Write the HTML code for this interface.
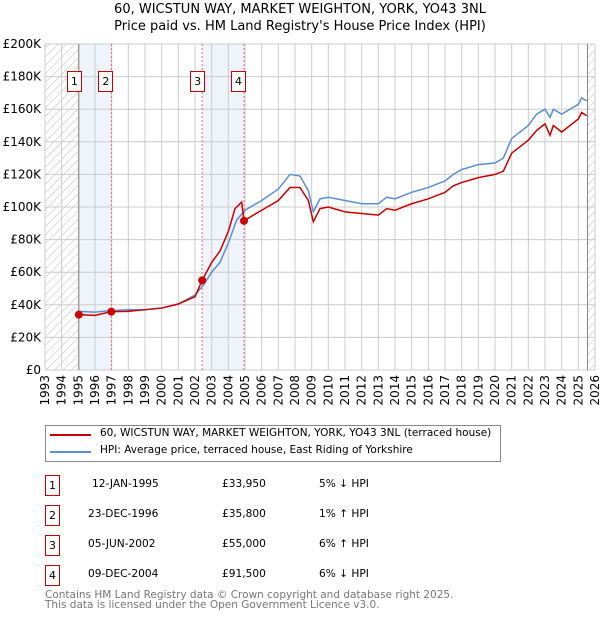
<!DOCTYPE html>
<html><head><meta charset="utf-8"><style>
body{margin:0;background:#fff;font-family:"DejaVu Sans","Liberation Sans",sans-serif;}
#wrap{position:relative;width:600px;height:620px;overflow:hidden}
.t{position:absolute;font-size:12px;color:#000;white-space:nowrap}
.box{position:absolute;width:13px;height:19px;border:1px solid #c00;font-size:11px;text-align:center;line-height:19px;background:#fff}
</style></head><body><div id="wrap">
<div class="t" style="left:0;width:600px;text-align:center;top:1px;font-size:13px;line-height:17px">60, WICSTUN WAY, MARKET WEIGHTON, YORK, YO43 3NL<br>Price paid vs. HM Land Registry's House Price Index (HPI)</div>
<svg id="c" width="600" height="420" style="position:absolute;left:0;top:0"></svg>
<div style="position:absolute;left:45px;top:425px;width:454px;height:35px;border:1px solid #888"></div>
<div><div style="position:absolute;left:50px;top:434px;width:41px;height:2px;background:#c00"></div><div class="t" style="left:100px;top:427px;font-size:10.5px">60, WICSTUN WAY, MARKET WEIGHTON, YORK, YO43 3NL (terraced house)</div></div>
<div><div style="position:absolute;left:50px;top:451px;width:41px;height:2px;background:#5b8fd4"></div><div class="t" style="left:100px;top:444px;font-size:10.5px">HPI: Average price, terraced house, East Riding of Yorkshire</div></div>
<div id="tbl"></div>
<div class="t" style="left:45px;top:590px;font-size:10.5px;color:#777;line-height:10px">Contains HM Land Registry data © Crown copyright and database right 2025.<br>This data is licensed under the Open Government Licence v3.0.</div>
</div>
<script>
const hpiYears=[1995,1996,1997,1998,1999,2000,2001,2002,2002.5,2003,2003.5,2004,2004.5,2005,2006,2007,2007.7,2008.3,2008.8,2009.1,2009.5,2010,2011,2012,2013,2013.5,2014,2015,2016,2017,2017.5,2018,2019,2020,2020.5,2021,2022,2022.5,2023,2023.3,2023.5,2024,2025,2025.2,2025.5];
const hpiValues=[36,35.5,36.5,37,37,38,40.5,46,52,60,66,78,92,98,104,111,120,119,110,97,105,106,104,102,102,106,105,109,112,116,120,123,126,127,130,142,150,157,160,155,160,157,163,167,165];
const priceYears=[1995.04,1996,1996.98,1998,1999,2000,2001,2002,2002.43,2003,2003.5,2004,2004.4,2004.8,2004.94,2005.5,2006,2007,2007.7,2008.3,2008.8,2009.1,2009.5,2010,2011,2012,2013,2013.5,2014,2015,2016,2017,2017.5,2018,2019,2020,2020.5,2021,2022,2022.5,2023,2023.3,2023.5,2024,2025,2025.2,2025.5];
const priceValues=[34,33.5,35.8,36,37,38,40.5,45,55,66,73,85,99,103,91.5,95,98,104,112,112,104,91,99,100,97,96,95,99,98,102,105,109,113,115,118,120,122,133,141,147,151,144,150,146,154,158,156];
const saleLabels=["1","2","3","4"];
const saleYears=[1995.03,1996.98,2002.43,2004.94];
const salePrices=[33.95,35.8,55,91.5];
const saleDates=["12-JAN-1995","23-DEC-1996","05-JUN-2002","09-DEC-2004"];
const saleText=["£33,950","£35,800","£55,000","£91,500"];
const saleHpi=["5% ↓ HPI","1% ↑ HPI","6% ↑ HPI","6% ↓ HPI"];
const yTicks=[0,20,40,60,80,100,120,140,160,180,200];
const X0=45,X1=595,Y0=370,Y1=44;
const x=y=>X0+(y-1993)*(X1-X0)/33;
const yv=v=>Y0-v*(Y0-Y1)/200;
const svg=document.getElementById('c');const NS="http://www.w3.org/2000/svg";
function mk(t,a,p){const e=document.createElementNS(NS,t);for(const k in a)e.setAttribute(k,a[k]);(p||svg).appendChild(e);return e;}
const defs=mk('defs',{});const pat=mk('pattern',{id:'h',width:6,height:6,patternUnits:'userSpaceOnUse',patternTransform:'rotate(45)'},defs);mk('line',{x1:0,y1:0,x2:0,y2:6,stroke:'#bbb','stroke-width':1},pat);
let r=mk('rect',{x:X0,y:Y1,width:x(1995.03)-X0,height:Y0-Y1,fill:'url(#h)'});


r=mk('rect',{x:x(2025.55),y:Y1,width:X1-x(2025.55),height:Y0-Y1,fill:'url(#h)'});


[[0,1],[2,3]].forEach((p,i)=>{const b=mk('rect',{x:x(saleYears[p[0]]),y:Y1,width:x(saleYears[p[1]])-x(saleYears[p[0]]),height:Y0-Y1,fill:'#eef3fc'});

});
for(let yr=1993;yr<=2026;yr++){const l=mk('line',{x1:x(yr),x2:x(yr),y1:Y1,y2:Y0,stroke:'#ccc'});


const t=mk('text',{x:0,y:0,transform:`translate(${x(yr)+4},${Y0+5}) rotate(-90)`,'text-anchor':'end','font-size':12,'font-family':'DejaVu Sans, sans-serif'});t.textContent=yr;

}
yTicks.forEach(v=>{const l=mk('line',{x1:X0,x2:X1,y1:yv(v),y2:yv(v),stroke:'#ccc'});


const t=mk('text',{x:X0-4,y:yv(v)+4,'text-anchor':'end','font-size':12,'font-family':'DejaVu Sans, sans-serif'});t.textContent=v===0?'£0':'£'+v+'K';

});
r=mk('line',{x1:x(1995.03),x2:x(1995.03),y1:Y1,y2:Y0,stroke:'#888'});
r=mk('line',{x1:x(2025.55),x2:x(2025.55),y1:Y1,y2:Y0,stroke:'#888'});
saleYears.slice(1).forEach(s=>{const l=mk('line',{x1:x(s),x2:x(s),y1:Y1,y2:Y0,stroke:'#f66','stroke-dasharray':'2,2'});

});
let p=mk('polyline',{points:hpiYears.map((a,i)=>x(a)+','+yv(hpiValues[i])).join(' '),fill:'none',stroke:'#5b8fd4','stroke-width':1.5});


p=mk('polyline',{points:priceYears.map((a,i)=>x(a)+','+yv(priceValues[i])).join(' '),fill:'none',stroke:'#c00','stroke-width':1.5});


saleYears.forEach((s,i)=>{const c=mk('circle',{cx:x(s),cy:yv(salePrices[i]),r:4,fill:'#c00'});

});
const wrap=document.getElementById('wrap');
const boxOff=[-12,-13,-12,-13];
saleYears.forEach((s,i)=>{const b=document.createElement('div');b.className='box';b.textContent=saleLabels[i];b.style.left=(x(s)+boxOff[i])+'px';b.style.top='71px';


wrap.appendChild(b);});
const rowsY=[475,505,535,565];
saleLabels.forEach((l,i)=>{const row=document.createElement('div');


row.innerHTML=`<div class="box" style="left:45px;top:${rowsY[i]}px">${l}</div><div class="t" style="left:${i==0?92:88}px;top:${rowsY[i]+3}px;font-size:10.6px">${saleDates[i]}</div><div class="t" style="left:222px;top:${rowsY[i]+3}px;font-size:10.6px">${saleText[i]}</div><div class="t" style="left:319px;top:${rowsY[i]+3}px;font-size:10.6px">${saleHpi[i]}</div>`;
wrap.appendChild(row);});
</script></body></html>
